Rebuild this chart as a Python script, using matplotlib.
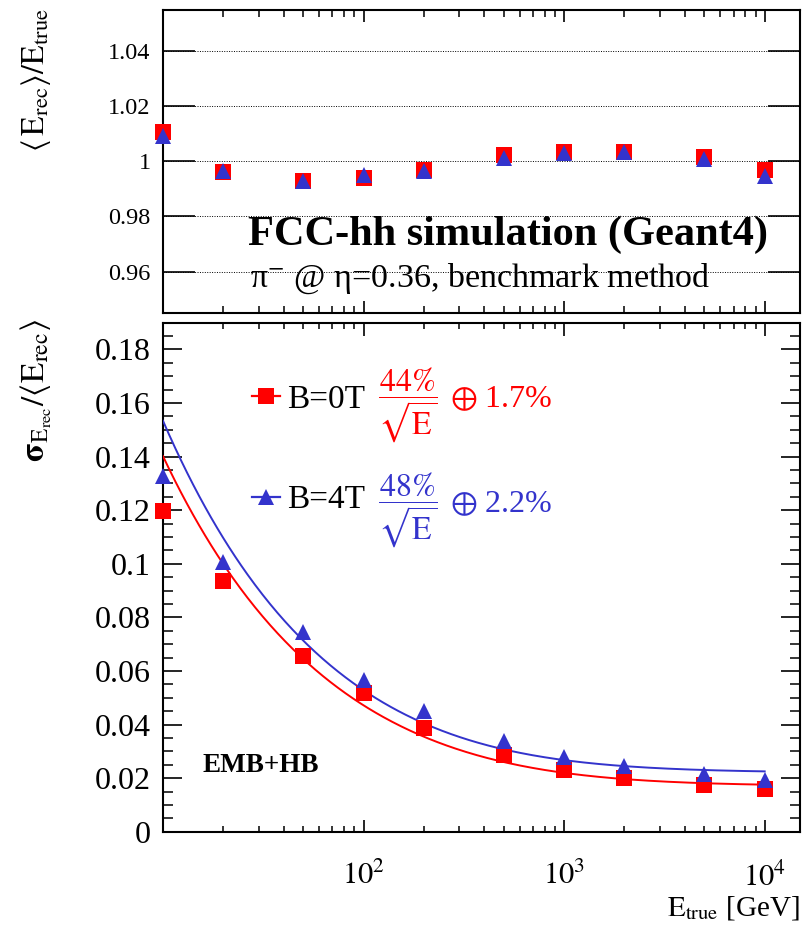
import numpy as np
import matplotlib
matplotlib.use("Agg")
import matplotlib.pyplot as plt
from matplotlib.ticker import (FixedLocator, LogLocator, FuncFormatter,
                               MultipleLocator, NullLocator, NullFormatter)
from matplotlib.lines import Line2D

# ---- data ---------------------------------------------------------------
energy = [10, 20, 50, 100, 200, 500, 1000, 2000, 5000, 10000]          # GeV

linearity_b0 = [1.0105, 0.996, 0.9928, 0.9938, 0.997, 1.0023, 1.0034, 1.0032, 1.0017, 0.997]
linearity_b4 = [1.009, 0.9965, 0.993, 0.995, 0.9965, 1.001, 1.003, 1.0035, 1.0008, 0.9947]

resolution_b0 = [0.1198, 0.0934, 0.0655, 0.0516, 0.0387, 0.0287, 0.0231, 0.0200, 0.0175, 0.0159]
resolution_b4 = [0.1329, 0.1007, 0.0745, 0.0568, 0.0449, 0.0337, 0.0279, 0.0246, 0.0216, 0.0194]

# fit parameters: sigma/E = a/sqrt(E) (+) b
fit_stochastic = [0.44, 0.48]
fit_constant = [0.017, 0.022]
field_labels = ["B=0T", "B=4T"]

RED = "#ff0000"
BLUE = "#3333cc"

plt.rcParams["font.family"] = ["Liberation Serif", "DejaVu Serif"]
plt.rcParams["mathtext.fontset"] = "stix"

W, H = 803, 925
fig = plt.figure(figsize=(W / 100, H / 100), dpi=100)


def box(l, t, r, b):
    return [l / W, 1 - b / H, (r - l) / W, (b - t) / H]


def fx(px):
    return px / W


def fy(py):
    return 1 - py / H


ax1 = fig.add_axes(box(163, 9.5, 800, 313))
ax2 = fig.add_axes(box(163, 322.7, 800, 831.7))

fmt_g = FuncFormatter(lambda v, p: "%g" % round(v, 4))

for ax in (ax1, ax2):
    ax.set_xscale("log")
    ax.set_xlim(10, 15000)
    ax.xaxis.set_major_locator(FixedLocator([100, 1000, 10000]))
    ax.xaxis.set_minor_locator(LogLocator(base=10, subs=np.arange(2, 10)))
    ax.xaxis.set_minor_formatter(NullFormatter())
    for s in ax.spines.values():
        s.set_linewidth(1.5)
        s.set_color("black")

MS = 12

# ---- upper panel: linearity ---------------------------------------------
ax1.plot(energy, linearity_b0, "s", color=RED, ms=MS, mew=0, clip_on=False, zorder=4)
ax1.plot(energy, linearity_b4, "^", color=BLUE, ms=MS, mew=0, clip_on=False, zorder=5)
ax1.set_ylim(0.945, 1.055)
ax1.yaxis.set_major_locator(MultipleLocator(0.02))
ax1.yaxis.set_minor_locator(NullLocator())
ax1.yaxis.set_major_formatter(fmt_g)
ax1.yaxis.grid(True, linestyle=(0, (1, 1.5)), color="black", lw=0.7)
ax1.tick_params(axis="y", which="major", direction="in", length=23, width=1.2,
                left=True, right=True, labelsize=17.5, pad=9)
ax1.tick_params(axis="x", which="major", direction="in", length=8.5, width=1.2,
                top=True, bottom=True, labelbottom=False)
ax1.tick_params(axis="x", which="minor", direction="in", length=5, width=1.1,
                top=True, bottom=True)

# ---- lower panel: resolution --------------------------------------------
curve_e = np.geomspace(energy[0], energy[-1], 400)
for a, b, col in zip(fit_stochastic, fit_constant, [RED, BLUE]):
    ax2.plot(curve_e, np.sqrt((a / np.sqrt(curve_e)) ** 2 + b ** 2), color=col, lw=1.4, zorder=3)

ax2.plot(energy, resolution_b0, "s", color=RED, ms=MS, mew=0, clip_on=False, zorder=4)
ax2.plot(energy, resolution_b4, "^", color=BLUE, ms=MS, mew=0, clip_on=False, zorder=5)
ax2.set_ylim(0, 0.19)
ax2.yaxis.set_major_locator(MultipleLocator(0.02))
ax2.yaxis.set_minor_locator(MultipleLocator(0.005))
ax2.yaxis.set_major_formatter(fmt_g)
ax2.xaxis.set_major_formatter(FuncFormatter(lambda v, p: r"$10^{%d}$" % round(np.log10(v))))
ax2.tick_params(axis="y", which="major", direction="in", length=14, width=1.2,
                left=True, right=True, labelsize=23, pad=9)
ax2.tick_params(axis="y", which="minor", direction="in", length=7.5, width=1.1,
                left=True, right=True)
ax2.tick_params(axis="x", which="major", direction="in", length=9, width=1.2,
                top=True, bottom=True, labelsize=22, pad=22)
ax2.tick_params(axis="x", which="minor", direction="in", length=4.5, width=1.1,
                top=True, bottom=True)

# legend entries (marker + line) with the field labels
handles = [Line2D([], [], color=RED, marker="s", ms=MS, mew=0, lw=1.6),
           Line2D([], [], color=BLUE, marker="^", ms=MS, mew=0, lw=1.6)]
ax2.legend(handles, field_labels, loc="center left",
           bbox_to_anchor=((252 - 163) / 637, (831.7 - 450) / 509),
           frameon=False, fontsize=24, handlelength=0.85, handletextpad=0.2,
           labelspacing=2.1, borderpad=0, borderaxespad=0)

# fit formulas next to the legend entries
fig.text(fx(408), fy(405), r"$\dfrac{44\%}{\sqrt{\mathrm{E}}}$", color=RED,
         size=23, ha="center", va="center")
fig.text(fx(450), fy(400), r"$\oplus$ 1.7%", color=RED, size=23, va="center")
fig.text(fx(408), fy(510), r"$\dfrac{48\%}{\sqrt{\mathrm{E}}}$", color=BLUE,
         size=23, ha="center", va="center")
fig.text(fx(450), fy(505), r"$\oplus$ 2.2%", color=BLUE, size=23, va="center")

# ---- annotations ----------------------------------------------------------
fig.text(fx(248), fy(245), "FCC-hh simulation (Geant4)", weight="bold", size=30.5, va="baseline")
fig.text(fx(250), fy(287), r"π$^{-}$ @ η=0.36, benchmark method", size=24.5, va="baseline")
fig.text(fx(203), fy(772), "EMB+HB", weight="bold", size=19.5, va="baseline")

fig.text(fx(36), fy(80), r"$\langle\,\mathrm{E_{rec}}\rangle/\mathrm{E_{true}}$",
         rotation=90, size=23, ha="center", va="center")
fig.text(fx(36), fy(391), r"$\mathbf{\sigma}_{\mathrm{E_{rec}}}/\langle\mathrm{E_{rec}}\rangle$",
         rotation=90, size=24, ha="center", va="center")
fig.text(fx(800), fy(916), r"$\mathrm{E_{true}}$ [GeV]", size=21, ha="right", va="baseline")

fig.savefig("out.png", dpi=100)
